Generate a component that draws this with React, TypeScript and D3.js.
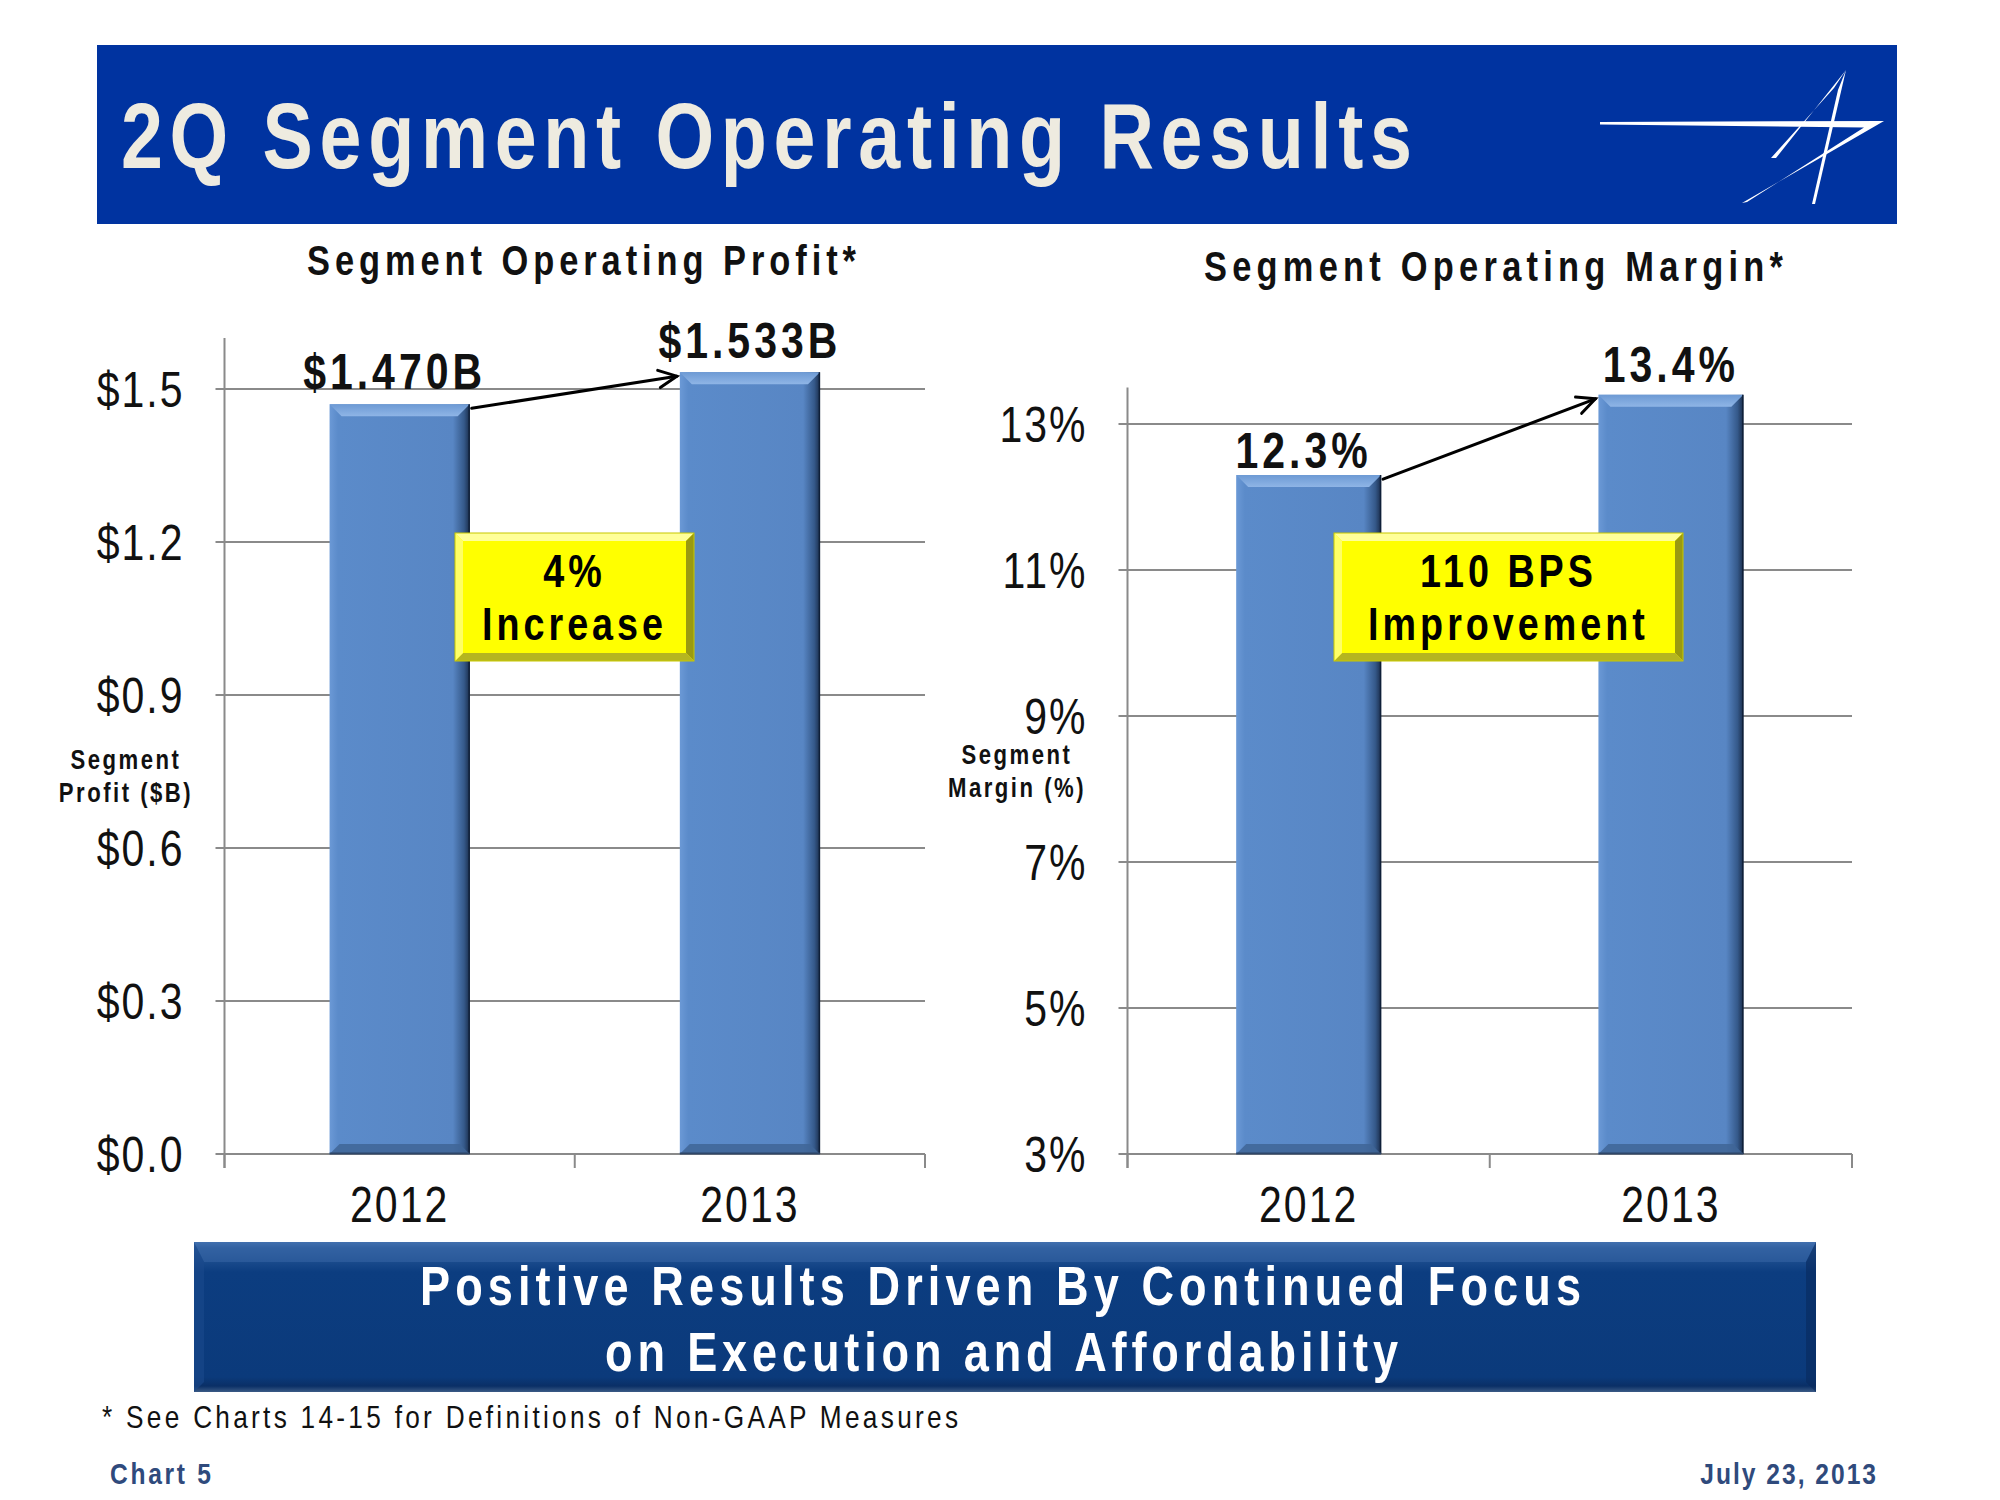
import React from "react";
import * as d3 from "d3";

const years = ["2012", "2013"];
const profitValues = [1.47, 1.533];
const profitLabels = ["$1.470B", "$1.533B"];
const profitTicks = [0, 0.3, 0.6, 0.9, 1.2, 1.5];
const marginValues = [12.3, 13.4];
const marginLabels = ["12.3%", "13.4%"];
const marginTicks = [3, 5, 7, 9, 11, 13];

const FN = "'Liberation Sans', Arial, sans-serif";
const SX = 0.82;

function NT({ x, y, size, bold, anchor, fill, ls, len, dy, children }: any) {
  return (
    <text
      transform={`translate(${x},${y}) scale(${SX},1)`}
      x={0}
      y={0}
      dy={dy}
      textAnchor={anchor || "start"}
      fontFamily={FN}
      fontWeight={bold ? "bold" : "normal"}
      fontSize={size}
      letterSpacing={ls ? ls / SX : 0}
      fill={fill || "#111"}
      textLength={len ? len / SX : undefined}
      lengthAdjust={len ? "spacing" : undefined}
    >
      {children}
    </text>
  );
}

function Bar({ x, y, w, h }: { x: number; y: number; w: number; h: number }) {
  const t = 12;
  const b = 10;
  return (
    <g>
      <rect x={x} y={y} width={w} height={h} fill="url(#barH)" />
      <polygon points={`${x},${y} ${x + w},${y} ${x + w - t},${y + t} ${x + t},${y + t}`} fill="url(#barTop)" />
      <polygon points={`${x},${y + h} ${x + w},${y + h} ${x + w - b},${y + h - b} ${x + b},${y + h - b}`} fill="#3f6596" opacity={0.85} />
      <line x1={x + w - 0.5} y1={y} x2={x + w - 0.5} y2={y + h} stroke="#0f1f38" strokeWidth={1.5} />
      <line x1={x} y1={y + h - 0.5} x2={x + w} y2={y + h - 0.5} stroke="#2e4668" strokeWidth={2} />
    </g>
  );
}

function YellowBox({ x, y, w, h, lines }: { x: number; y: number; w: number; h: number; lines: string[] }) {
  const e = 8;
  return (
    <g>
      <rect x={x} y={y} width={w} height={h} fill="#ffff00" />
      <polygon points={`${x},${y} ${x + w},${y} ${x + w - e},${y + e} ${x + e},${y + e}`} fill="#ffff99" />
      <polygon points={`${x + w},${y} ${x + w},${y + h} ${x + w - e},${y + h - e} ${x + w - e},${y + e}`} fill="#9a9a10" />
      <polygon points={`${x},${y + h} ${x + w},${y + h} ${x + w - e},${y + h - e} ${x + e},${y + h - e}`} fill="#b5b520" />
      <polygon points={`${x},${y} ${x + e},${y + e} ${x + e},${y + h - e} ${x},${y + h}`} fill="#ffff66" />
      <rect x={x + e} y={y + e} width={w - 2 * e} height={h - 2 * e} fill="#ffff00" />
      <rect x={x} y={y} width={w} height={h} fill="none" stroke="#c8c800" strokeWidth={1} />
      {lines.map((l, i) => (
        <NT key={i} x={x + w / 2} y={y + 54 + i * 53} anchor="middle" bold size={46} ls={4} fill="#000">
          {l}
        </NT>
      ))}
    </g>
  );
}

function Arrow({ x1, y1, x2, y2 }: { x1: number; y1: number; x2: number; y2: number }) {
  const a = Math.atan2(y2 - y1, x2 - x1);
  const L = 20;
  const s = 0.45;
  const p1 = [x2 - L * Math.cos(a - s), y2 - L * Math.sin(a - s)];
  const p2 = [x2 - L * Math.cos(a + s), y2 - L * Math.sin(a + s)];
  return (
    <g stroke="#000" strokeWidth={3} fill="none" strokeLinecap="round">
      <line x1={x1} y1={y1} x2={x2} y2={y2} />
      <polyline points={`${p1[0]},${p1[1]} ${x2},${y2} ${p2[0]},${p2[1]}`} />
    </g>
  );
}

function Panel({
  x0, x1, yTop, dom, values, labels, ticks, fmt, labelOff, title, titleX, titleY, titleLen, axisLines, axisX, axisY,
}: any) {
  const x = d3.scaleBand<string>().domain(years).range([x0, x1]).paddingInner(0.6).paddingOuter(0.3);
  const y = d3.scaleLinear().domain(dom).range([1154, yTop]);
  const bw = x.bandwidth();
  const base = y(dom[0]);
  return (
    <g>
      <NT x={titleX} y={titleY} anchor="middle" bold size={42} ls={3} len={titleLen}>
        {title}
      </NT>
      {ticks.map((t: number) => (
        <g key={t}>
          <line x1={x0 - 9} x2={x1} y1={y(t)} y2={y(t)} stroke="#8a8a8a" strokeWidth={2} />
          <NT x={x0 - 40} y={y(t)} dy="0.36em" anchor="end" size={50} ls={2}>
            {fmt(t)}
          </NT>
        </g>
      ))}
      <line x1={x0} x2={x0} y1={yTop} y2={base + 14} stroke="#8a8a8a" strokeWidth={2} />
      {[x0, x0 + x.step(), x1].map((t, i) => (
        <line key={i} x1={t} x2={t} y1={base} y2={base + 14} stroke="#8a8a8a" strokeWidth={2} />
      ))}
      {years.map((yr, i) => (
        <g key={yr}>
          <Bar x={x(yr)!} y={y(values[i])} w={bw} h={base - y(values[i])} />
          <NT x={x(yr)! + bw / 2} y={1222} anchor="middle" size={50} ls={2}>
            {yr}
          </NT>
          <NT x={x(yr)! + bw / 2 + (i === 0 ? -5 : 0)} y={y(values[i]) - labelOff[i]} anchor="middle" bold size={50} ls={4}>
            {labels[i]}
          </NT>
        </g>
      ))}
      <Arrow x1={x(years[0])! + bw + 2} y1={y(values[0]) + 4} x2={x(years[1])! - 3} y2={y(values[1]) + 4} />
      {axisLines.map((l: string, i: number) => (
        <NT key={i} x={axisX} y={axisY + i * 33} anchor="middle" bold size={27} ls={2.5}>
          {l}
        </NT>
      ))}
    </g>
  );
}

export default function App() {
  return (
    <svg width={2000} height={1500} style={{ position: "absolute", left: 0, top: 0, background: "#fff" }}>
      <defs>
        <linearGradient id="barH" x1="0" x2="1" y1="0" y2="0">
          <stop offset="0" stopColor="#6b99d6" />
          <stop offset="0.06" stopColor="#5b8bca" />
          <stop offset="0.88" stopColor="#5886c4" />
          <stop offset="0.96" stopColor="#35598a" />
          <stop offset="1" stopColor="#1b2e4c" />
        </linearGradient>
        <linearGradient id="barTop" x1="0" x2="0" y1="0" y2="1">
          <stop offset="0" stopColor="#6d9ad4" />
          <stop offset="1" stopColor="#8fb5e6" />
        </linearGradient>
        <linearGradient id="banner" x1="0" x2="0" y1="0" y2="1">
          <stop offset="0" stopColor="#4a78b4" />
          <stop offset="0.04" stopColor="#2c5c9c" />
          <stop offset="0.2" stopColor="#0c3d80" />
          <stop offset="0.9" stopColor="#0b3a7b" />
          <stop offset="0.96" stopColor="#0a2f66" />
          <stop offset="1" stopColor="#3b5a85" />
        </linearGradient>
      </defs>
      {/* header */}
      <rect x={97} y={45} width={1800} height={179} fill="#0033a0" />
      <NT x={121} y={168} bold size={92} ls={8} fill="#eeebe0" len={1299}>
        2Q Segment Operating Results
      </NT>
      <g fill="#fff">
        <path d="M1600,122 L1884,121 L1742,203 L1747,202 L1864,127.5 L1600,124.5 Z" />
        <path d="M1846,70 L1776,158 L1771,158 L1834,88 Z" />
        <path d="M1846,70 L1815,204 L1812,204 L1838,90 Z" />
      </g>

      <Panel
        x0={224.5} x1={925} yTop={338} dom={[0, 1.6]} values={profitValues} labels={profitLabels} ticks={profitTicks}
        fmt={(t: number) => "$" + t.toFixed(1)} labelOff={[15, 14]}
        title="Segment Operating Profit*" titleX={583} titleY={275} titleLen={552}
        axisLines={["Segment", "Profit ($B)"]} axisX={126} axisY={769}
      />
      <Panel
        x0={1127.5} x1={1852} yTop={387.5} dom={[3, 13.5]} values={marginValues} labels={marginLabels} ticks={marginTicks}
        fmt={(t: number) => t + "%"} labelOff={[7, 13]}
        title="Segment Operating Margin*" titleX={1495} titleY={281} titleLen={582}
        axisLines={["Segment", "Margin (%)"]} axisX={1017} axisY={764}
      />
      <YellowBox x={455} y={533} w={239} h={128} lines={["4%", "Increase"]} />
      <YellowBox x={1334} y={533} w={349} h={128} lines={["110 BPS", "Improvement"]} />

      {/* banner */}
      <rect x={194} y={1242} width={1622} height={150} fill="url(#banner)" />
      <polygon points="194,1242 1816,1242 1806,1262 204,1262" fill="#3a68a8" opacity={0.5} />
      <polygon points="194,1242 204,1262 204,1382 194,1392" fill="#1a4a8c" opacity={0.6} />
      <polygon points="1816,1242 1806,1262 1806,1382 1816,1392" fill="#082a5e" opacity={0.6} />
      <NT x={1003} y={1305} anchor="middle" bold size={55} ls={5} fill="#fff" len={1166}>
        Positive Results Driven By Continued Focus
      </NT>
      <NT x={1004} y={1371} anchor="middle" bold size={55} ls={5} fill="#fff" len={798}>
        on Execution and Affordability
      </NT>

      <NT x={102} y={1428} size={32} ls={2} len={858}>
        * See Charts 14-15 for Definitions of Non-GAAP Measures
      </NT>
      <NT x={110} y={1484} bold size={30} ls={2} fill="#2f4a7c" len={103}>
        Chart 5
      </NT>
      <NT x={1878} y={1484} anchor="end" bold size={30} ls={2} fill="#2f4a7c">
        July 23, 2013
      </NT>
    </svg>
  );
}
